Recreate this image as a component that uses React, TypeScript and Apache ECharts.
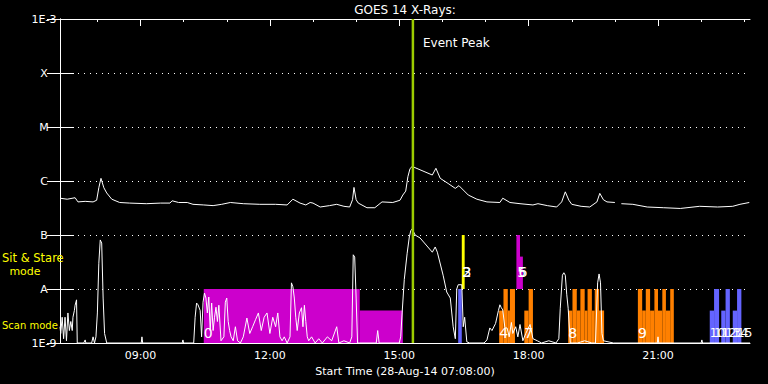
import React, { useEffect, useRef } from 'react';
import * as echarts from 'echarts';

// ---- axis / text data ----
const titleText = 'GOES 14 X-Rays:';
const xAxisName = 'Start Time (28-Aug-14 07:08:00)';
const startClock = '07:08';
const spanMinutes = 960;
const xTickLabels = ['09:00', '12:00', '15:00', '18:00', '21:00'];
const yTickLabels = ['1E-9', 'A', 'B', 'C', 'M', 'X', '1E-3'];
const eventPeakMinute = 491;

// ---- GOES long channel (1-8 A) flux, [minutes since start, W/m^2] ----
const longFlux: [number, number | null][] = [
  [0, 4.8e-7], [10, 4.6e-7], [21, 4.9e-7], [25, 4.1e-7], [35, 4.2e-7], [46, 4.1e-7], [51, 4.4e-7],
  [54, 7.5e-7], [57, 1.12e-6], [61, 7.5e-7], [65, 6.0e-7], [72, 4.6e-7], [83, 4.0e-7], [97, 3.9e-7],
  [120, 3.8e-7], [140, 3.9e-7], [153, 3.9e-7], [156, 4.3e-7], [165, 4.0e-7], [177, 4.0e-7], [185, 3.7e-7],
  [200, 3.6e-7], [213, 3.5e-7], [225, 3.7e-7], [237, 4.0e-7], [255, 3.8e-7], [278, 3.7e-7], [300, 3.7e-7],
  [316, 3.6e-7], [324, 4.6e-7], [334, 3.9e-7], [342, 3.6e-7], [348, 4.0e-7], [352, 3.9e-7], [362, 3.3e-7],
  [375, 3.5e-7], [385, 3.7e-7], [395, 3.4e-7], [403, 3.3e-7], [407, 4.5e-7], [409, 7.6e-7], [412, 4.5e-7],
  [415, 3.9e-7], [427, 3.2e-7], [438, 3.2e-7], [448, 4.1e-7], [463, 4.0e-7], [473, 4.4e-7], [477, 5.5e-7],
  [481, 6.5e-7], [484, 1.2e-6], [487, 1.7e-6], [490, 1.86e-6], [518, 1.29e-6], [523, 1.72e-6],
  [529, 1.12e-6], [540, 9.0e-7], [550, 7.3e-7], [555, 8.2e-7], [568, 5.5e-7], [580, 4.6e-7], [594, 4.1e-7],
  [612, 4.0e-7], [616, 4.8e-7], [626, 4.0e-7], [640, 3.8e-7], [658, 3.6e-7], [665, 3.8e-7], [678, 3.5e-7],
  [691, 3.3e-7], [698, 4.1e-7], [703, 6.3e-7], [708, 4.4e-7], [712, 3.7e-7], [725, 3.4e-7], [737, 3.3e-7],
  [747, 4.1e-7], [751, 5.9e-7], [756, 4.5e-7], [761, 4.1e-7], [772, 4.0e-7], [776, null], [781, 3.8e-7],
  [797, 3.7e-7], [817, 3.3e-7], [840, 3.2e-7], [863, 3.1e-7], [890, 3.4e-7], [915, 3.3e-7], [936, 3.4e-7],
  [946, 3.7e-7], [959, 4.0e-7],
];

// ---- GOES short channel (0.5-4 A) flux, [minutes since start, W/m^2] ----
const shortFlux: [number, number][] = [
  [0, 2.0e-9], [1, 1.5e-9], [3, 3.0e-9], [5, 1.2e-9], [7, 3.0e-9], [9, 1.1e-9], [11, 3.6e-9], [13, 1.7e-9],
  [15, 2.5e-9], [17, 1.7e-9], [18, 3.0e-9], [20, 4.0e-9], [21, 5.0e-9], [23, 6.3e-9], [24, 1.0e-9],
  [33, 1.0e-9], [35, 1.14e-9], [36, 1.0e-9], [44, 1.0e-9], [46, 1.3e-9], [48, 1.0e-9], [50, 1.3e-9],
  [52, 3.6e-9], [54, 3.0e-8], [56, 8.1e-8], [58, 7.1e-8], [60, 6.8e-9], [62, 1.5e-9], [65, 1.0e-9],
  [113, 1.0e-9], [114, 1.3e-9], [115, 1.0e-9], [170, 1.0e-9], [171, 1.14e-9], [172, 1.0e-9], [186, 1.0e-9],
  [188, 3.0e-9], [190, 5.5e-9], [192, 5.1e-9], [195, 4.0e-9], [197, 1.3e-9], [199, 5.7e-9], [201, 8.4e-9],
  [203, 6.8e-9], [205, 3.6e-9], [207, 7.1e-9], [209, 1.7e-9], [211, 5.5e-9], [213, 1.7e-9], [215, 3.0e-9],
  [217, 4.6e-9], [219, 2.5e-9], [221, 5.0e-9], [224, 1.1e-9], [228, 1.3e-9], [230, 5.7e-9], [232, 6.8e-9],
  [234, 2.5e-9], [236, 1.7e-9], [238, 1.3e-9], [241, 1.1e-9], [244, 2.0e-9], [247, 1.1e-9], [251, 1.0e-9],
  [255, 1.3e-9], [260, 2.9e-9], [264, 1.5e-9], [268, 2.0e-9], [272, 2.7e-9], [276, 3.6e-9], [280, 1.7e-9],
  [284, 3.0e-9], [288, 3.6e-9], [292, 1.5e-9], [296, 3.0e-9], [300, 2.0e-9], [303, 3.6e-9], [306, 1.3e-9],
  [309, 1.1e-9], [312, 1.3e-9], [316, 1.0e-9], [320, 1.3e-9], [322, 1.3e-8], [324, 1.1e-8], [326, 6.8e-9],
  [328, 3.0e-9], [330, 1.7e-9], [333, 3.6e-9], [336, 4.5e-9], [338, 2.0e-9], [340, 5.0e-9], [342, 2.5e-9],
  [344, 1.3e-9], [346, 1.1e-9], [350, 1.3e-9], [355, 1.0e-9], [360, 1.2e-9], [365, 1.0e-9], [372, 1.3e-9],
  [378, 1.1e-9], [385, 2.0e-9], [388, 1.0e-9], [395, 1.1e-9], [403, 1.0e-9], [406, 1.3e-9], [408, 4.3e-8],
  [410, 3.9e-8], [412, 6.8e-9], [414, 1.0e-9], [440, 1.0e-9], [442, 1.7e-9], [444, 1.0e-9], [472, 1.0e-9],
  [474, 1.3e-9], [476, 3.6e-9], [479, 1.5e-8], [483, 4.6e-8], [486, 9.2e-8], [488, 1.2e-7], [490, 1.3e-7],
  [494, 1.0e-7], [501, 8.8e-8], [518, 4.8e-8], [522, 6.0e-8], [525, 4.8e-8], [533, 1.8e-8], [538, 8.8e-9],
  [543, 6.8e-9], [547, 2.0e-9], [550, 1.2e-9], [552, 1.0e-8], [554, 1.2e-8], [559, 1.2e-8], [561, 2.0e-9],
  [563, 3.0e-9], [566, 1.05e-9], [570, 1.0e-9], [590, 1.0e-9], [594, 1.14e-9], [598, 1.9e-9], [601, 1.7e-9],
  [606, 2.3e-9], [610, 4.0e-9], [612, 5.1e-9], [614, 4.5e-9], [616, 4.1e-9], [619, 1.9e-9], [622, 1.9e-9],
  [625, 1.3e-9], [628, 2.4e-9], [630, 1.5e-9], [634, 2.0e-9], [637, 1.3e-9], [640, 2.2e-9], [644, 1.1e-9],
  [648, 1.5e-9], [654, 2.2e-9], [658, 1.2e-9], [664, 1.1e-9], [670, 1.0e-9], [680, 1.1e-9], [690, 1.0e-9],
  [694, 1.2e-9], [696, 4.4e-9], [699, 1.8e-8], [701, 2.0e-8], [703, 1.8e-8], [705, 8.0e-9], [707, 4.4e-9],
  [710, 1.0e-9], [720, 1.0e-9], [730, 1.1e-9], [740, 1.0e-9], [745, 1.0e-9], [748, 1.3e-8], [750, 1.9e-8],
  [752, 1.3e-8], [754, 1.5e-9], [756, 1.1e-9], [770, 1.0e-9], [800, 1.0e-9], [831, 1.0e-9], [832, 1.3e-9],
  [833, 1.0e-9], [892, 1.0e-9], [893, 1.14e-9], [894, 1.0e-9], [960, 1.0e-9],
];

// ---- observation segments (minutes since start) ----
const segStart = [200, 417, 554, 559, 611, 617, 623, 626, 635, 640, 646, 652, 707, 713, 719, 724, 730, 734, 740, 744, 750, 804, 810, 815, 821, 827, 832, 838, 843, 849, 904, 910, 920, 926, 936, 942];
const segEnd = [417, 477, 559, 563, 617, 623, 626, 633, 640, 644, 652, 658, 713, 719, 724, 730, 734, 740, 744, 750, 757, 810, 815, 821, 827, 832, 838, 843, 849, 854, 910, 917, 926, 932, 942, 948];
const segMode = ['scan', 'scan', 'scan', 'stare', 'scan', 'scan', 'scan', 'scan', 'stare', 'stare', 'scan', 'scan', 'scan', 'scan', 'scan', 'scan', 'scan', 'scan', 'scan', 'scan', 'scan', 'scan', 'scan', 'scan', 'scan', 'scan', 'scan', 'scan', 'scan', 'scan', 'scan', 'scan', 'scan', 'scan', 'scan', 'scan'];
const segFull = [1, 0, 1, 1, 0, 1, 0, 1, 1, 0, 0, 1, 0, 1, 0, 1, 0, 1, 0, 1, 0, 1, 0, 1, 0, 1, 0, 1, 0, 1, 0, 1, 0, 1, 0, 1];
const segColor = ['m', 'm', 'b', 'y', 'o', 'o', 'o', 'o', 'm', 'm', 'o', 'o', 'o', 'o', 'o', 'o', 'o', 'o', 'o', 'o', 'o', 'o', 'o', 'o', 'o', 'o', 'o', 'o', 'o', 'o', 'b', 'b', 'b', 'b', 'b', 'b'];

// ---- observation number labels ----
const obsLabel = ['0', '2', '3', '4', '5', '6', '7', '8', '9', '10', '11', '12', '13', '14', '15'];
const obsLabelAt = [200, 560, 560, 611, 636, 638, 646, 707, 804, 904, 910, 920, 926, 936, 942];
const obsLabelMode = ['scan', 'stare', 'stare', 'scan', 'stare', 'stare', 'scan', 'scan', 'scan', 'scan', 'scan', 'scan', 'scan', 'scan', 'scan'];

const palette: Record<string, string> = { m: '#cc00cc', b: '#6464ff', y: '#ffff00', o: '#ff8000' };
const FONT = '"DejaVu Sans", sans-serif';

const startTotal = Number(startClock.slice(0, 2)) * 60 + Number(startClock.slice(3));
const clockToMin = (s: string) => Number(s.slice(0, 2)) * 60 + Number(s.slice(3)) - startTotal;
const minToClock = (m: number) => {
  const t = Math.round(m + startTotal);
  return String(Math.floor(t / 60) % 24).padStart(2, '0') + ':' + String(t % 60).padStart(2, '0');
};

export default function App() {
  const ref = useRef<HTMLDivElement>(null);
  useEffect(() => {
    document.body.style.margin = '0';
    document.body.style.background = '#000';
    const chart = echarts.init(ref.current!, undefined, { renderer: 'svg' });

    const hourTicks: number[] = [];
    for (let h = Math.ceil(startTotal / 60); h * 60 <= startTotal + spanMinutes; h++) hourTicks.push(h * 60 - startTotal);
    const majorTicks = xTickLabels.map(clockToMin);

    const toLog = (d: [number, number | null][]) => d.map(([m, f]) => [m, f == null ? '-' : Math.log10(f)]);

    const rectData = segStart.map((s, i) => {
      const base = segMode[i] === 'scan' ? -9 : -8;
      const top = base + (segFull[i] ? 1 : 0.6);
      return [s, segEnd[i], base, top, i];
    });
    const labelData = obsLabel.map((_, i) => [obsLabelAt[i], obsLabelMode[i] === 'scan' ? -8.815 : -7.685, i]);

    const option: any = {
      animation: false,
      backgroundColor: '#000',
      grid: { left: 60, right: 18, top: 19, bottom: 41 },
      xAxis: [
        {
          type: 'value', position: 'bottom', min: 0, max: spanMinutes,
          axisLine: { show: true, lineStyle: { color: '#fff', width: 1 } },
          axisTick: { show: false },
          splitLine: { show: false },
          axisLabel: { show: true, customValues: majorTicks, formatter: (v: number) => minToClock(v), color: '#fff', fontSize: 11, fontFamily: FONT, margin: 7 },
          name: xAxisName, nameLocation: 'middle', nameGap: 19,
          nameTextStyle: { color: '#fff', fontSize: 11, fontFamily: FONT },
        },
        {
          type: 'value', position: 'top', min: 0, max: spanMinutes,
          axisLine: { show: true, lineStyle: { color: '#fff', width: 1 } },
          axisTick: { show: true, inside: true, length: 3, customValues: hourTicks, lineStyle: { color: '#fff' } },
          axisLabel: { show: false }, splitLine: { show: false },
        },
        {
          type: 'value', position: 'top', min: 0, max: spanMinutes,
          axisLine: { show: false },
          axisTick: { show: true, inside: true, length: 7, customValues: majorTicks, lineStyle: { color: '#fff' } },
          axisLabel: { show: false }, splitLine: { show: false },
        },
      ],
      yAxis: [
        {
          type: 'value', min: -9, max: -3, interval: 1, position: 'left',
          axisLine: { show: true, lineStyle: { color: '#fff', width: 1 } },
          axisTick: { show: true, inside: true, length: 14, lineStyle: { color: '#fff' } },
          axisLabel: { color: '#ffffff', fontSize: 11, fontFamily: FONT, align: 'center', margin: 16, formatter: (v: number) => yTickLabels[Math.round(v + 9)] },
          splitLine: { show: true, lineStyle: { color: '#fff', type: [1, 5], width: 1 } },
        },
        {
          type: 'value', min: -9, max: -3, interval: 1, position: 'right',
          axisLine: { show: true, lineStyle: { color: '#fff', width: 1 } },
          axisTick: { show: true, inside: true, length: 13, lineStyle: { color: '#fff' } },
          axisLabel: { show: false }, splitLine: { show: false },
        },
      ],
      graphic: [
        { type: 'text', x: 405, y: 10, style: { text: titleText, fill: '#fff', font: `12px ${FONT}`, textAlign: 'center', textVerticalAlign: 'middle' } },
        { type: 'text', x: 423, y: 43, z: 20, style: { text: 'Event Peak', fill: '#fff', font: `12px ${FONT}`, textAlign: 'left', textVerticalAlign: 'middle' } },
        { type: 'text', x: 2, y: 258, z: 20, style: { text: 'Sit & Stare', fill: '#ffff00', font: `11.5px ${FONT}`, textAlign: 'left', textVerticalAlign: 'middle' } },
        { type: 'text', x: 25, y: 271, z: 20, style: { text: 'mode', fill: '#ffff00', font: `11px ${FONT}`, textAlign: 'center', textVerticalAlign: 'middle' } },
        { type: 'text', x: 2, y: 325, z: 20, style: { text: 'Scan mode', fill: '#ffff00', font: `10px ${FONT}`, textAlign: 'left', textVerticalAlign: 'middle' } },
      ],
      series: [
        {
          type: 'custom', xAxisIndex: 0, yAxisIndex: 0, z: 1, clip: true,
          data: rectData,
          renderItem: (_p: any, api: any) => {
            const p0 = api.coord([api.value(0), api.value(2)]);
            const p1 = api.coord([api.value(1), api.value(3)]);
            const i = api.value(4);
            return {
              type: 'rect',
              shape: { x: p0[0], y: p1[1], width: p1[0] - p0[0], height: p0[1] - p1[1] },
              style: { fill: palette[segColor[i]] },
            };
          },
        },
        {
          type: 'line', name: 'long', xAxisIndex: 0, yAxisIndex: 0, z: 3,
          data: toLog(longFlux), showSymbol: false, connectNulls: false,
          lineStyle: { color: '#fff', width: 1 }, itemStyle: { color: '#fff' },
        },
        {
          type: 'line', name: 'short', xAxisIndex: 0, yAxisIndex: 0, z: 3,
          data: toLog(shortFlux), showSymbol: false,
          lineStyle: { color: '#fff', width: 1 }, itemStyle: { color: '#fff' },
        },
        {
          type: 'custom', xAxisIndex: 0, yAxisIndex: 0, z: 5,
          data: labelData,
          renderItem: (_p: any, api: any) => {
            const p = api.coord([api.value(0), api.value(1)]);
            const txt = obsLabel[api.value(2)];
            return {
              type: 'text', x: p[0], y: p[1],
              style: { text: txt, fill: '#fff', font: `${txt.length > 1 ? 12 : 14}px ${FONT}`, textAlign: 'left', textVerticalAlign: 'middle' },
            };
          },
        },
        {
          type: 'custom', xAxisIndex: 0, yAxisIndex: 0, z: 10,
          data: [[eventPeakMinute]],
          renderItem: (_p: any, api: any) => {
            const a = api.coord([api.value(0), -3]);
            const b = api.coord([api.value(0), -9]);
            return { type: 'line', shape: { x1: a[0], y1: a[1], x2: b[0], y2: b[1] }, style: { stroke: '#9ccc00', lineWidth: 2.5 } };
          },
        },
      ],
    };
    chart.setOption(option);
    return () => chart.dispose();
  }, []);
  return <div ref={ref} style={{ position: 'fixed', left: 0, top: 0, width: 768, height: 384, background: '#000' }} />;
}
